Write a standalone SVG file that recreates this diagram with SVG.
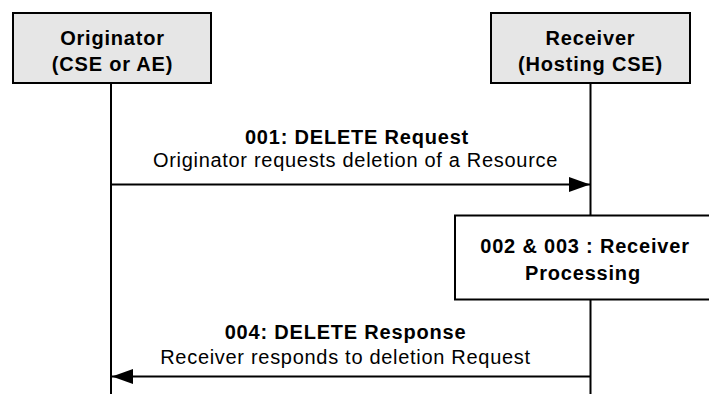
<svg xmlns="http://www.w3.org/2000/svg" width="709" height="394" viewBox="0 0 709 394">
<style>
.box{fill:#e6e6e6;stroke:#000;stroke-width:2}
.pbox{fill:#fff;stroke:#000;stroke-width:2}
.life{stroke:#000;stroke-width:2;fill:none}
.msg{stroke:#000;stroke-width:2;fill:none}
text{font-family:"Liberation Sans",Arial,sans-serif;font-size:20px;letter-spacing:0.8px;fill:#000;text-anchor:middle}
.b{font-weight:bold}
.n{letter-spacing:0.7px}
</style>
<defs>
<marker id="ah" markerWidth="21" markerHeight="15" refX="21" refY="7.5" orient="auto" markerUnits="userSpaceOnUse">
<path d="M0,0 L21,7.5 L0,15 Z" fill="#000"/>
</marker>
</defs>
<g id="lifelines">
<line class="life" x1="111" y1="83" x2="111" y2="394"/>
<line class="life" x1="590.5" y1="83" x2="590.5" y2="394"/>
</g>
<g id="originator">
<rect class="box" x="13" y="13" width="198" height="70"/>
<text class="b" x="112.5" y="45">Originator</text>
<text class="b" x="112.5" y="71">(CSE or AE)</text>
</g>
<g id="receiver">
<rect class="box" x="491" y="13" width="199" height="70"/>
<text class="b" x="590.5" y="45">Receiver</text>
<text class="b" x="590.5" y="71">(Hosting CSE)</text>
</g>
<g id="processing">
<rect class="pbox" x="455" y="215.5" width="258" height="84"/>
<text class="b" x="585" y="253">002 &amp; 003 : Receiver</text>
<text class="b" x="583" y="280">Processing</text>
</g>
<g id="connectors">
<line class="msg" x1="111" y1="184.5" x2="590" y2="184.5" marker-end="url(#ah)"/>
<line class="msg" x1="590.5" y1="376.5" x2="112" y2="376.5" marker-end="url(#ah)"/>
</g>
<g id="labels">
<text class="b" x="357" y="144">001: DELETE Request</text>
<text class="n" x="355.5" y="167">Originator requests deletion of a Resource</text>
<text class="b" x="345.5" y="339">004: DELETE Response</text>
<text class="n" x="345.5" y="364">Receiver responds to deletion Request</text>
</g>
</svg>
